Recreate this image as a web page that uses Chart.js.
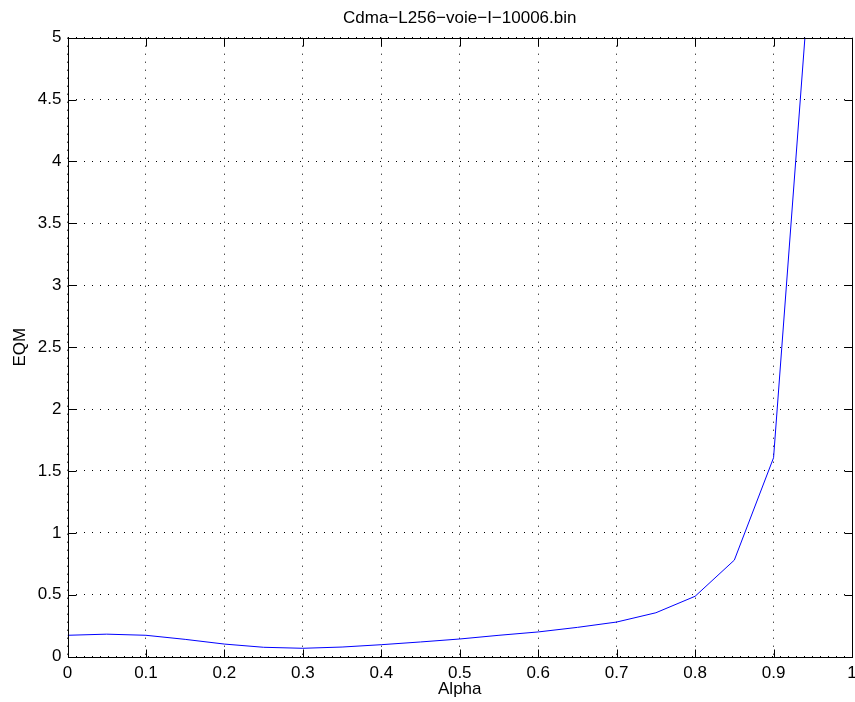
<!DOCTYPE html>
<html>
<head>
<meta charset="utf-8">
<title>Cdma-L256-voie-I-10006.bin</title>
<script src="https://cdn.jsdelivr.net/npm/chart.js@4/dist/chart.umd.min.js"></script>
<style>
    html, body { margin: 0; padding: 0; background: #fff; }
    #wrap { width: 855px; height: 702px; }
</style>
</head>
<body>
<div id="wrap"><canvas id="eqmChart"></canvas></div>
<script>
// ---- data ----
const alphaValues = [0, 0.05, 0.1, 0.15, 0.2, 0.25, 0.3, 0.35, 0.4, 0.45, 0.5,
                     0.55, 0.6, 0.65, 0.7, 0.75, 0.8, 0.85, 0.9, 0.95];
const eqmValues = [0.173, 0.182, 0.173, 0.140, 0.102, 0.076, 0.068, 0.078, 0.097, 0.119, 0.143,
                   0.173, 0.200, 0.237, 0.280, 0.355, 0.488, 0.780, 1.607, 5.85];
const xTicks = [0, 0.1, 0.2, 0.3, 0.4, 0.5, 0.6, 0.7, 0.8, 0.9, 1];
const yTicks = [0, 0.5, 1, 1.5, 2, 2.5, 3, 3.5, 4, 4.5, 5];
const chartTitle = 'Cdma\u2212L256\u2212voie\u2212I\u221210006.bin';
const xLabel = 'Alpha';
const yLabel = 'EQM';

const FONT = '"Liberation Sans", Arial, Helvetica, sans-serif';
const FSIZE = 17;

// MATLAB style box + inward tick marks
const matlabBox = {
    id: 'matlabBox',
    afterDraw: function (chart) {
        const a = chart.chartArea;
        const ctx = chart.ctx;
        const xs = chart.scales.x, ys = chart.scales.y;
        const L = Math.round(a.left) + 0.5, R = Math.round(a.right) + 0.5;
        const T = Math.round(a.top) + 0.5, B = Math.round(a.bottom) + 0.5;
        ctx.save();
        ctx.strokeStyle = '#000';
        ctx.lineWidth = 1;
        ctx.beginPath();
        xTicks.forEach(function (v) {
            const px = Math.round(xs.getPixelForValue(v)) + 0.5;
            ctx.moveTo(px, B); ctx.lineTo(px, B - 8);
            ctx.moveTo(px, T); ctx.lineTo(px, T + 8);
        });
        yTicks.forEach(function (v) {
            const py = Math.round(ys.getPixelForValue(v)) + 0.5;
            ctx.moveTo(L, py); ctx.lineTo(L + 8, py);
            ctx.moveTo(R, py); ctx.lineTo(R - 8, py);
        });
        ctx.stroke();
        ctx.strokeRect(L, T, R - L, B - T);
        ctx.restore();
    }
};

const points = alphaValues.map(function (x, i) { return { x: x, y: eqmValues[i] }; });

new Chart(document.getElementById('eqmChart'), {
    type: 'scatter',
    data: {
        datasets: [{
            data: points,
            showLine: true,
            borderColor: '#0000ff',
            borderWidth: 1,
            pointRadius: 0,
            fill: false,
            tension: 0
        }]
    },
    options: {
        responsive: true, maintainAspectRatio: false,
        animation: false,
        layout: { padding: { left: 0, right: 3, top: 0, bottom: 0 } },
        plugins: {
            legend: { display: false },
            tooltip: { enabled: false },
            title: { display: false }
        },
        scales: {
            x: {
                type: 'linear', min: 0, max: 1,
                afterBuildTicks: function (s) { s.ticks = xTicks.map(v => ({ value: v })); },
                afterFit: function (s) { s.height = 45.3; s.paddingLeft = 0; s.paddingRight = 0; },
                grid: { color: '#000', lineWidth: 1, drawTicks: false },
                border: { display: false, dash: [1, 7] },
                ticks: { color: '#000', padding: 6, maxRotation: 0, autoSkip: false,
                         font: { family: FONT, size: FSIZE },
                         callback: v => String(v) },
                title: { display: true, text: xLabel, color: '#000',
                         font: { family: FONT, size: FSIZE }, padding: { top: 0, bottom: 2 } }
            },
            // top axis only carries the title, centred over the axes like MATLAB
            xTop: {
                type: 'linear', position: 'top', min: 0, max: 1,
                afterBuildTicks: function (s) { s.ticks = []; },
                afterFit: function (s) { s.height = 37.7; s.paddingLeft = 0; s.paddingRight = 0; },
                grid: { display: false, drawOnChartArea: false, drawTicks: false },
                border: { display: false },
                ticks: { display: false },
                title: { display: true, text: chartTitle, color: '#000',
                         font: { family: FONT, size: FSIZE }, padding: { top: 8, bottom: 0 } }
            },
            y: {
                type: 'linear', min: 0, max: 5,
                afterBuildTicks: function (s) { s.ticks = yTicks.map(v => ({ value: v })); },
                afterFit: function (s) { s.width = 67.5; s.paddingTop = 0; s.paddingBottom = 0; },
                grid: { color: '#000', lineWidth: 1, drawTicks: false },
                border: { display: false, dash: [1, 7] },
                ticks: { color: '#000', padding: 6, autoSkip: false,
                         font: { family: FONT, size: FSIZE },
                         callback: v => String(v) },
                title: { display: true, text: yLabel, color: '#000',
                         font: { family: FONT, size: FSIZE }, padding: { top: 10, bottom: 0 } }
            }
        }
    },
    plugins: [matlabBox]
});
</script>
</body>
</html>
